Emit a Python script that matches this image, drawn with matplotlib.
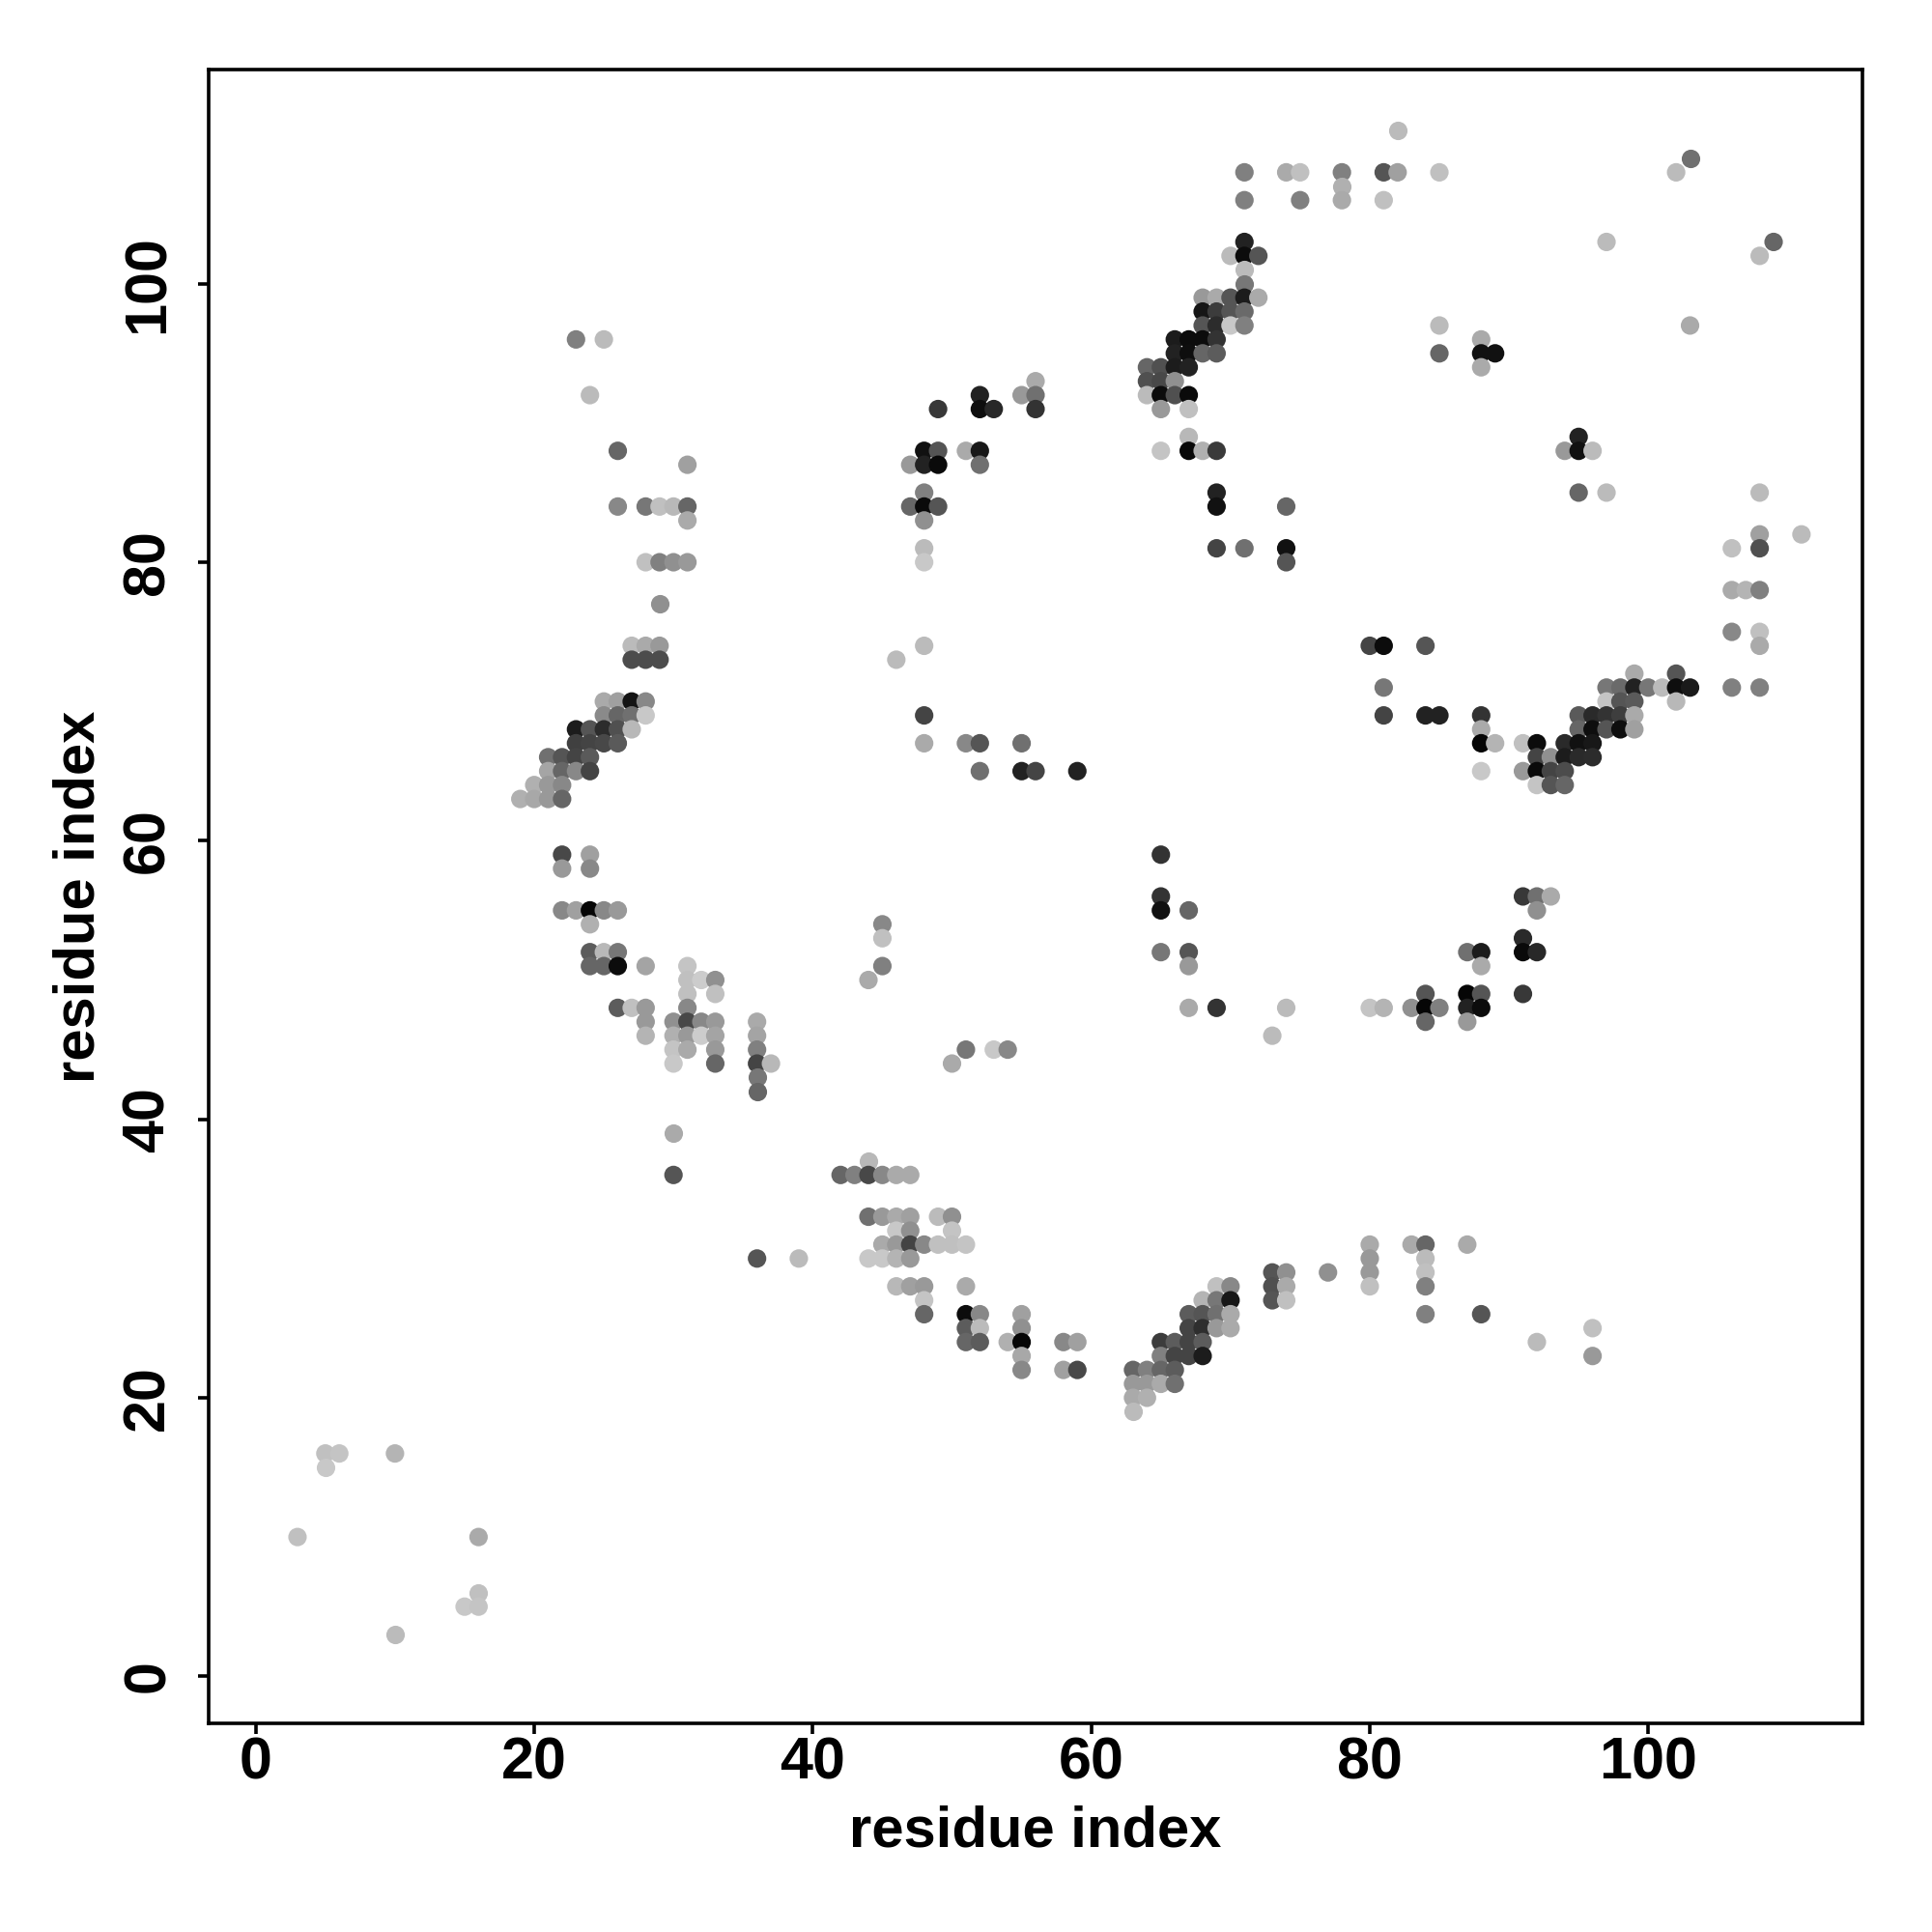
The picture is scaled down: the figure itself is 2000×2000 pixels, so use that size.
import matplotlib
matplotlib.use("Agg")
import matplotlib.pyplot as plt

row_y = [111,109,108,107,106,103,102,101,100,99,98,97,96,95,94,93,92,91,89,88,87,85,84,83,82,81,80,78,77,75,74,73,72,71,70,69,68,67,66,65,64,63,59,58,56,55,54,53,52,51,50,49,48,47,46,45,44,43,42,39,37,36,33,32,31,30,29,28,27,26,25,24,23,22,21,20,19,16,15,10,6,5,3]

row_x = [
 [82],[103],[71,74,75,78,81,82,85,102],[78],[71,75,78,81],
 [71,97,109],[70,71,72,108],[71],[71],[68,69,70,71,72],
 [68,69,70,71],[68,69,70,71,85,103],[23,25,66,67,68,69,88],[66,67,68,69,85,88,89],[64,65,66,67,88],
 [56,64,65,66],[24,52,55,56,64,65,66,67],[49,52,53,56,65,67],[67,95],[26,48,49,51,52,65,67,68,69,94,95,96],
 [31,47,48,49,52],[48,69,95,97,108],[26,28,29,30,31,47,48,49,69,74],[31,48],[108,111],
 [48,69,71,74,106,108],[28,29,30,31,48,74],[106,107,108],[29],[106,108],
 [27,28,29,48,80,81,84,108],[27,28,29,46],[99,102],[81,97,98,99,100,101,102,103,106,108],[25,26,27,28,97,98,99,102],
 [25,26,27,28,48,81,84,85,88,95,96,97,98,99],[23,24,25,26,27,88,95,96,97,98,99],[23,24,25,26,48,51,52,55,88,89,91,92,94,95,96],[21,22,23,24,92,93,94,95,96],[21,22,23,24,52,55,56,59,88,91,92,93,94],
 [20,21,22,92,93,94],[19,20,21,22],[22,24,65],[22,24],[65,91,92,93],
 [22,23,24,25,26,65,67,92],[24,45],[45,91],[24,25,26,65,67,87,88,91,92],[24,25,26,28,31,45,67,88],
 [31,32,33,44],[31,33,84,87,88,91],[26,27,28,31,67,69,74,80,81,83,84,85,87,88],[28,30,31,32,33,36,84,87],[28,30,31,32,33,36,73],
 [30,31,33,36,51,53,54],[30,33,36,37,50],[36],[36],[30],
 [44],[30,42,43,44,45,46,47],[44,45,46,47,49,50],[46,47,50],[45,46,47,48,49,50,51,80,83,84,87],
 [36,39,44,45,46,47,80,84],[73,74,77,80,84],[46,47,48,51,69,70,73,74,80,84],[48,68,69,70,73,74],[48,51,52,55,67,68,69,70,84,88],
 [51,52,55,67,68,69,70,96],[51,52,54,55,58,59,65,66,67,68,92],[55,65,66,67,68,96],[55,58,59,63,64,65,66],[63,64,65,66],
 [63,64],[63],[5,6,10],[5],[3,16],[16],[15,16],[10],
]

row_grey = [
 [0xbb],[0x70],[0x80,0xaa,0xc0,0x80,0x55,0xa0,0xc0,0xbb],[0xb0],[0x80,0x80,0xaa,0xc0],
 [0x22,0xbb,0x66],[0xbb,0x0c,0x55,0xbb],[0xbb],[0x77],[0x99,0xaa,0x55,0x1c,0xaa],
 [0x16,0x3c,0x55,0x6a],[0x55,0x2c,0xc8,0x80,0xbb,0xaa],[0x80,0xbb,0x1c,0x0c,0x0c,0x33,0xaa],[0x22,0x0e,0x66,0x5c,0x66,0x11,0x11],[0x66,0x50,0x1c,0x22,0xaa],
 [0xaa,0x50,0x48,0x90],[0xbb,0x22,0x99,0x70,0xbb,0x0c,0x50,0x0a],[0x38,0x0e,0x28,0x33,0x99,0xc0],[0xb8,0x22],[0x66,0x11,0x55,0xaa,0x18,0xc4,0x08,0xb0,0x3a,0x99,0x11,0xbb],
 [0xa0,0x99,0x22,0x0a,0x70],[0x80,0x22,0x66,0xbb,0xbb],[0x88,0x77,0xc0,0xb8,0x66,0x66,0x0a,0x55,0x11,0x66],[0xaa,0x90],[0xa0,0xbb],
 [0xbb,0x44,0x70,0x11,0xc0,0x50],[0xc0,0x80,0x90,0x99,0xc8,0x55],[0xaa,0xb4,0x80],[0x90],[0x88,0xc0],
 [0xbb,0xaa,0x99,0xbb,0x44,0x0c,0x55,0xaa],[0x4c,0x4c,0x4c,0xbb],[0xaa,0x55],[0x77,0x77,0x6a,0x22,0x77,0xbb,0x0e,0x1a,0x80,0x80],[0xaa,0xa0,0x14,0x88,0xc4,0x55,0x5a,0xb8],
 [0x8a,0x66,0x70,0xc8,0x44,0x44,0x22,0x22,0x33,0x5a,0x2a,0x33,0x3e,0xaa],[0x1c,0x55,0x2c,0x50,0xb8,0xaa,0x66,0x0e,0x55,0x0e,0xa0],[0x40,0x44,0x48,0x5a,0xaa,0x88,0x55,0x70,0x06,0xb4,0xc0,0x0c,0x2a,0x11,0x18],[0x70,0x55,0x44,0x5a,0x44,0x90,0x1c,0x2a,0x2c],[0xa5,0x66,0x88,0x44,0x70,0x22,0x44,0x22,0xc8,0x99,0x0a,0x44,0x4c],
 [0xb0,0x99,0x88,0xc4,0x55,0x66],[0xb0,0xa8,0x99,0x66],[0x48,0xa0,0x33],[0x99,0x88],[0x33,0x38,0x70,0xaa],
 [0x88,0xa0,0x06,0x88,0x99,0x11,0x66,0x90],[0xb0,0x88],[0xc0,0x2a],[0x5c,0xb8,0x77,0x77,0x55,0x70,0x1c,0x0a,0x28],[0x66,0x66,0x0c,0xa4,0xc4,0x80,0x99,0xaa],
 [0xc0,0xcc,0x90,0xaa],[0xc0,0xc0,0x55,0x06,0x55,0x38],[0x5c,0xc0,0x99,0x88,0xaa,0x33,0xbb,0xc4,0xb4,0x90,0x06,0x80,0x22,0x0c],[0x99,0x90,0x48,0x88,0x99,0xaa,0x66,0x99],[0xb4,0xb0,0x99,0xcc,0xa4,0xa4,0xbb],
 [0xc4,0xaa,0x99,0x80,0x77,0xc8,0x88],[0xc8,0x66,0x44,0xb8,0xaa],[0x77],[0x66],[0xaa],
 [0xb8],[0x55,0x66,0x80,0x48,0x88,0xaa,0xaa],[0x70,0x99,0xaa,0xa0,0xbb,0x90],[0xc8,0x90,0xc4],[0xaa,0x99,0x44,0x88,0xc0,0xc0,0xc4,0xaa,0xaa,0x66,0xaa],
 [0x55,0xbb,0xc8,0xc8,0xb4,0x99,0x99,0xbb],[0x55,0x90,0x90,0x99,0xc0],[0xb8,0xa0,0x99,0xaa,0xc0,0x88,0x50,0xaa,0xc0,0x80],[0xc4,0xb4,0x77,0x18,0x55,0xc0],[0x66,0x0c,0x88,0xa0,0x5c,0x55,0x70,0xaa,0x80,0x55],
 [0x5c,0xbb,0x90,0x44,0x2e,0x99,0xaa,0xc0],[0x66,0x5c,0xb0,0x06,0x88,0xa0,0x3c,0x5c,0x44,0x5c,0xbb],[0xa8,0x80,0x44,0x44,0x1c,0x99],[0x88,0xa0,0x48,0x66,0x80,0x66,0x5c],[0x99,0x99,0xaa,0x70],
 [0xaa,0xb0],[0xbb],[0xc0,0xc4,0xb4],[0xc8],[0xc0,0xaa],[0xc0],[0xc8,0xc4],[0xbb],
]

tick_values = [0, 20, 40, 60, 80, 100]
x_label = "residue index"
y_label = "residue index"

plt.rcParams["font.family"] = ["Liberation Sans", "DejaVu Sans"]
fig = plt.figure(figsize=(20, 20), dpi=100)
ax = fig.add_axes([216/2000, 1-1784/2000, (1928-216)/2000, (1784-72)/2000])

for y, xs, gs in zip(row_y, row_x, row_grey):
    cols = [(g/255, g/255, g/255) for g in gs]
    ax.scatter(xs, [y]*len(xs), s=190, c=cols, linewidths=0, zorder=3)

ax.set_xlim(-3.38, 115.38)
ax.set_ylim(-3.38, 115.38)
ax.set_xticks(tick_values)
ax.set_yticks(tick_values)
ax.set_xticklabels([str(t) for t in tick_values], fontsize=44, fontweight="bold")
ax.set_yticklabels([str(t) for t in tick_values], fontsize=44, fontweight="bold",
                   rotation=90, va="center")
ax.tick_params(axis="x", length=8, width=2.6, direction="out", color="black", pad=2)
ax.tick_params(axis="y", length=8, width=2.6, direction="out", color="black", pad=16)
for sp in ax.spines.values():
    sp.set_linewidth(2.6)
ax.set_xlabel(x_label, fontsize=43, fontweight="bold", labelpad=10)
ax.set_ylabel(y_label, fontsize=43, fontweight="bold", labelpad=12)
fig.savefig("out.png", dpi=100, facecolor="white")
